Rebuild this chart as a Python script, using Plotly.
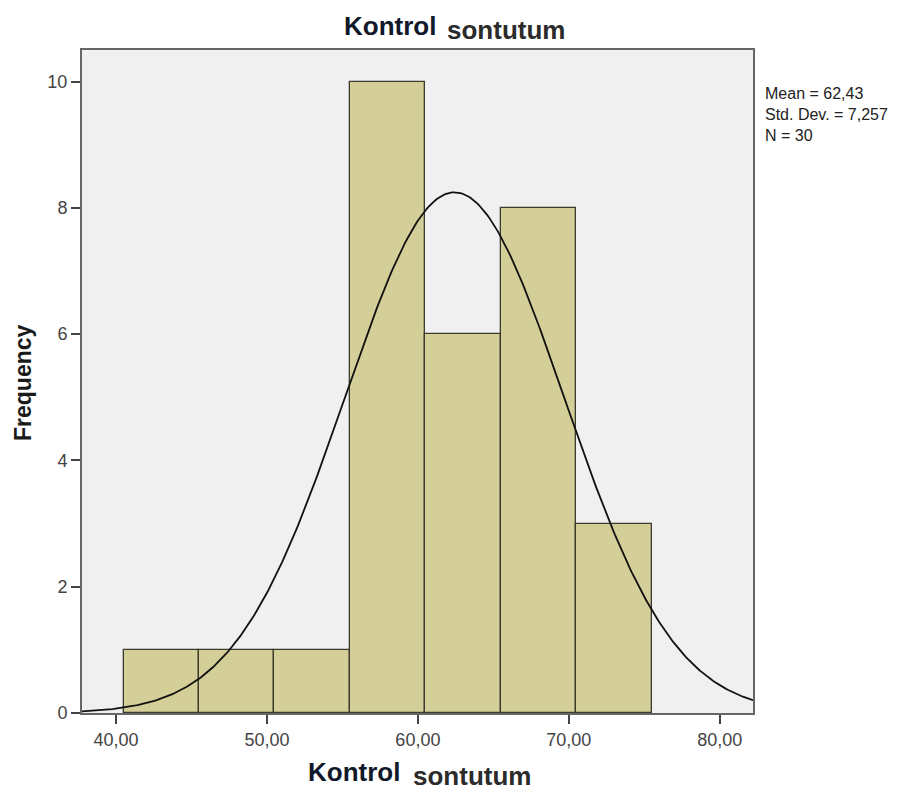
import numpy as np
import plotly.graph_objects as go

# Histogram bins (5-unit wide) and their frequencies
bin_starts = [40.5, 45.5, 50.5, 55.5, 60.5, 65.5, 70.5]
frequencies = [1, 1, 1, 10, 6, 8, 3]
bin_width = 5.0

# Summary statistics shown beside the plot
mean_value = 62.43
std_dev = 7.257
n_obs = 30

x_tick_vals = [40, 50, 60, 70, 80]
x_tick_text = ["40,00", "50,00", "60,00", "70,00", "80,00"]
y_tick_vals = [0, 2, 4, 6, 8, 10]

FONT = "Arial, 'Liberation Sans', sans-serif"

# Plot area in pixels (used to place the free-floating labels)
L, R, T, B = 82, 753, 50, 713
W, H = R - L, B - T


def px(x):
    return (x - L) / W


def py(y):
    return (B - y) / H


centers = [s + bin_width / 2 for s in bin_starts]

# Fitted normal curve scaled to the frequency axis
xs = np.linspace(37.75, 82.2, 400)
ys = n_obs * bin_width * np.exp(-0.5 * ((xs - mean_value) / std_dev) ** 2) / (std_dev * np.sqrt(2 * np.pi))

fig = go.Figure()
fig.add_trace(go.Bar(
    x=centers, y=frequencies, width=bin_width,
    marker=dict(color="#D4CF98", line=dict(color="#3b3a2c", width=1.3)),
    hoverinfo="x+y",
))
fig.add_trace(go.Scatter(
    x=xs, y=ys, mode="lines",
    line=dict(color="#111111", width=1.8),
    hoverinfo="skip",
))

fig.update_layout(
    width=903, height=793,
    margin=dict(l=L, r=903 - R, t=T, b=793 - B),
    paper_bgcolor="white",
    plot_bgcolor="#F0F0F0",
    showlegend=False,
    bargap=0,
    font=dict(family=FONT, color="#333333", size=18),
)

axis_common = dict(
    ticks="outside", ticklen=9, tickwidth=1.8, tickcolor="#444444",
    showgrid=False, zeroline=False,
    showline=True, linecolor="#666666", linewidth=2, mirror=True,
    tickfont=dict(size=18, color="#444444", family=FONT),
)
fig.update_xaxes(range=[37.75, 82.2], tickvals=x_tick_vals, ticktext=x_tick_text, **axis_common)
fig.update_yaxes(range=[0, 10.5], tickvals=y_tick_vals, **axis_common)


def label(text, x, y, size, color, angle=0, anchor="center", yanchor="middle"):
    fig.add_annotation(text=text, xref="paper", yref="paper", x=px(x), y=py(y),
                       xanchor=anchor, yanchor=yanchor, showarrow=False, align="left",
                       textangle=angle, font=dict(size=size, color=color, family=FONT))


# Title: bold word followed by a lowered second word
label("<b>Kontrol</b>", 390, 26, 26, "#10182a")
label("<b>sontutum</b>", 506, 30, 26, "#2b2b2b")

# X-axis label in the same two-part style
label("<b>Kontrol</b>", 354, 772, 26, "#10182a")
label("<b>sontutum</b>", 472, 776, 26, "#2b2b2b")

# Y-axis label
label("<b>Frequency</b>", 23, 383, 23, "#1a1a1a", angle=-90)

# Statistics text block
mean_txt = f"Mean = {mean_value:.2f}".replace(".", ",")
sd_txt = "Std. Dev. = " + f"{std_dev:.3f}".replace(".", ",")
n_txt = f"N = {n_obs}"
label("<br>".join([mean_txt, sd_txt, n_txt]), 763, 83, 16, "#222222",
      anchor="left", yanchor="top")

fig.write_html("out.html")
